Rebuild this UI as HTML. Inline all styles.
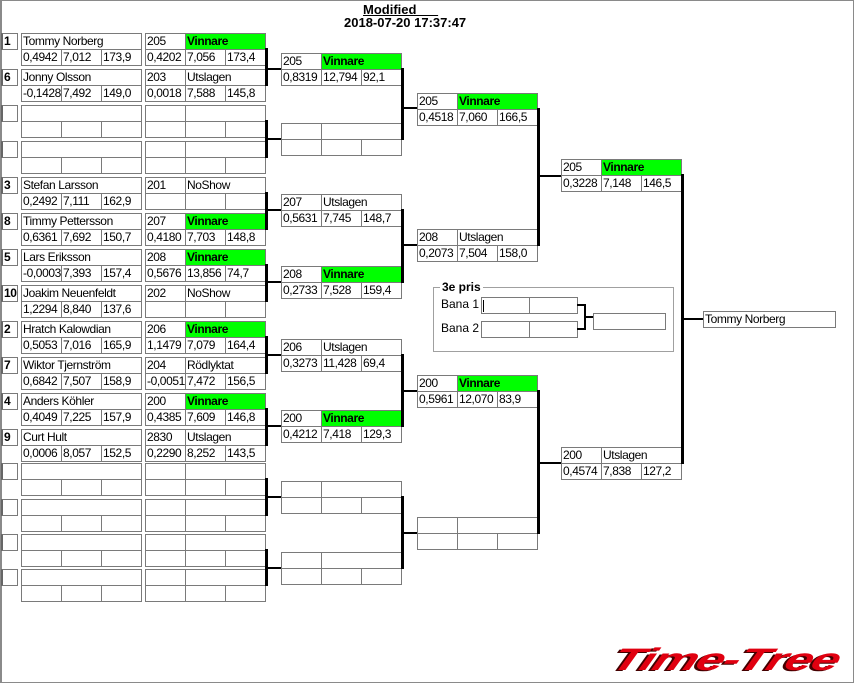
<!DOCTYPE html>
<html><head><meta charset="utf-8"><style>
*{margin:0;padding:0;box-sizing:border-box}
body{width:854px;height:684px;background:#fff;position:relative;overflow:hidden;font-family:"Liberation Sans",Arial,sans-serif;font-size:12px;color:#000}
#fr{position:absolute;left:0;top:0;width:854px;height:683px;border:1px solid #8a8a8a;border-left:2px solid #8a8a8a}
.p,.r{position:absolute;left:0;height:40px;width:300px}
.p span,.r span,.x{position:absolute;height:17px;border:1px solid #7a7a7a;line-height:15px;padding-left:1px;white-space:nowrap;overflow:hidden;background:#fff;letter-spacing:-0.4px}
.s{left:1px;top:0;width:17px;font-weight:bold;border-left:2px solid #666!important}
.n{left:21px;top:0;width:121px}
.a{left:21px;top:16px;width:41px}.b{left:61px;top:16px;width:41px}.d{left:101px;top:16px;width:41px}
.e{left:145px;top:0;width:41px}.f{left:185px;top:0;width:81px}
.h{left:145px;top:16px;width:41px}.j{left:185px;top:16px;width:41px}.k{left:225px;top:16px;width:41px}
.g{background:#00ff00!important;font-weight:bold}
.l{position:absolute;background:#000}
.t{position:absolute;font-weight:bold;font-size:13px;white-space:pre}
</style></head><body>
<div id="fr"></div>
<div class="t" style="left:363px;top:2px;text-decoration:underline">Modified      </div>
<div class="t" style="left:344px;top:15px">2018-07-20 17:37:47</div>

<div class="p" style="top:33px"><span class="s">1</span><span class="n">Tommy Norberg</span><span class="a">0,4942</span><span class="b">7,012</span><span class="d">173,9</span><span class="e">205</span><span class="f g">Vinnare</span><span class="h">0,4202</span><span class="j">7,056</span><span class="k">173,4</span></div>
<div class="p" style="top:69px"><span class="s">6</span><span class="n">Jonny Olsson</span><span class="a">-0,1428</span><span class="b">7,492</span><span class="d">149,0</span><span class="e">203</span><span class="f">Utslagen</span><span class="h">0,0018</span><span class="j">7,588</span><span class="k">145,8</span></div>
<div class="p" style="top:105px"><span class="s"></span><span class="n"></span><span class="a"></span><span class="b"></span><span class="d"></span><span class="e"></span><span class="f"></span><span class="h"></span><span class="j"></span><span class="k"></span></div>
<div class="p" style="top:141px"><span class="s"></span><span class="n"></span><span class="a"></span><span class="b"></span><span class="d"></span><span class="e"></span><span class="f"></span><span class="h"></span><span class="j"></span><span class="k"></span></div>
<div class="p" style="top:177px"><span class="s">3</span><span class="n">Stefan Larsson</span><span class="a">0,2492</span><span class="b">7,111</span><span class="d">162,9</span><span class="e">201</span><span class="f">NoShow</span><span class="h"></span><span class="j"></span><span class="k"></span></div>
<div class="p" style="top:213px"><span class="s">8</span><span class="n">Timmy Pettersson</span><span class="a">0,6361</span><span class="b">7,692</span><span class="d">150,7</span><span class="e">207</span><span class="f g">Vinnare</span><span class="h">0,4180</span><span class="j">7,703</span><span class="k">148,8</span></div>
<div class="p" style="top:249px"><span class="s">5</span><span class="n">Lars Eriksson</span><span class="a">-0,0003</span><span class="b">7,393</span><span class="d">157,4</span><span class="e">208</span><span class="f g">Vinnare</span><span class="h">0,5676</span><span class="j">13,856</span><span class="k">74,7</span></div>
<div class="p" style="top:285px"><span class="s">10</span><span class="n">Joakim Neuenfeldt</span><span class="a">1,2294</span><span class="b">8,840</span><span class="d">137,6</span><span class="e">202</span><span class="f">NoShow</span><span class="h"></span><span class="j"></span><span class="k"></span></div>
<div class="p" style="top:321px"><span class="s">2</span><span class="n">Hratch Kalowdian</span><span class="a">0,5053</span><span class="b">7,016</span><span class="d">165,9</span><span class="e">206</span><span class="f g">Vinnare</span><span class="h">1,1479</span><span class="j">7,079</span><span class="k">164,4</span></div>
<div class="p" style="top:357px"><span class="s">7</span><span class="n">Wiktor Tjernström</span><span class="a">0,6842</span><span class="b">7,507</span><span class="d">158,9</span><span class="e">204</span><span class="f">Rödlyktat</span><span class="h">-0,0051</span><span class="j">7,472</span><span class="k">156,5</span></div>
<div class="p" style="top:393px"><span class="s">4</span><span class="n">Anders Köhler</span><span class="a">0,4049</span><span class="b">7,225</span><span class="d">157,9</span><span class="e">200</span><span class="f g">Vinnare</span><span class="h">0,4385</span><span class="j">7,609</span><span class="k">146,8</span></div>
<div class="p" style="top:429px"><span class="s">9</span><span class="n">Curt Hult</span><span class="a">0,0006</span><span class="b">8,057</span><span class="d">152,5</span><span class="e">2830</span><span class="f">Utslagen</span><span class="h">0,2290</span><span class="j">8,252</span><span class="k">143,5</span></div>
<div class="p" style="top:463px"><span class="s"></span><span class="n"></span><span class="a"></span><span class="b"></span><span class="d"></span><span class="e"></span><span class="f"></span><span class="h"></span><span class="j"></span><span class="k"></span></div>
<div class="p" style="top:499px"><span class="s"></span><span class="n"></span><span class="a"></span><span class="b"></span><span class="d"></span><span class="e"></span><span class="f"></span><span class="h"></span><span class="j"></span><span class="k"></span></div>
<div class="p" style="top:534px"><span class="s"></span><span class="n"></span><span class="a"></span><span class="b"></span><span class="d"></span><span class="e"></span><span class="f"></span><span class="h"></span><span class="j"></span><span class="k"></span></div>
<div class="p" style="top:569px"><span class="s"></span><span class="n"></span><span class="a"></span><span class="b"></span><span class="d"></span><span class="e"></span><span class="f"></span><span class="h"></span><span class="j"></span><span class="k"></span></div>

<div class="r" style="left:136px;top:53px"><span class="e">205</span><span class="f g">Vinnare</span><span class="h">0,8319</span><span class="j">12,794</span><span class="k">92,1</span></div>
<div class="r" style="left:136px;top:123px"><span class="e"></span><span class="f"></span><span class="h"></span><span class="j"></span><span class="k"></span></div>
<div class="r" style="left:136px;top:194px"><span class="e">207</span><span class="f">Utslagen</span><span class="h">0,5631</span><span class="j">7,745</span><span class="k">148,7</span></div>
<div class="r" style="left:136px;top:266px"><span class="e">208</span><span class="f g">Vinnare</span><span class="h">0,2733</span><span class="j">7,528</span><span class="k">159,4</span></div>
<div class="r" style="left:136px;top:339px"><span class="e">206</span><span class="f">Utslagen</span><span class="h">0,3273</span><span class="j">11,428</span><span class="k">69,4</span></div>
<div class="r" style="left:136px;top:410px"><span class="e">200</span><span class="f g">Vinnare</span><span class="h">0,4212</span><span class="j">7,418</span><span class="k">129,3</span></div>
<div class="r" style="left:136px;top:481px"><span class="e"></span><span class="f"></span><span class="h"></span><span class="j"></span><span class="k"></span></div>
<div class="r" style="left:136px;top:552px"><span class="e"></span><span class="f"></span><span class="h"></span><span class="j"></span><span class="k"></span></div>
<div class="r" style="left:272px;top:93px"><span class="e">205</span><span class="f g">Vinnare</span><span class="h">0,4518</span><span class="j">7,060</span><span class="k">166,5</span></div>
<div class="r" style="left:272px;top:229px"><span class="e">208</span><span class="f">Utslagen</span><span class="h">0,2073</span><span class="j">7,504</span><span class="k">158,0</span></div>
<div class="r" style="left:272px;top:375px"><span class="e">200</span><span class="f g">Vinnare</span><span class="h">0,5961</span><span class="j">12,070</span><span class="k">83,9</span></div>
<div class="r" style="left:272px;top:517px"><span class="e"></span><span class="f"></span><span class="h"></span><span class="j"></span><span class="k"></span></div>
<div class="r" style="left:416px;top:159px"><span class="e">205</span><span class="f g">Vinnare</span><span class="h">0,3228</span><span class="j">7,148</span><span class="k">146,5</span></div>
<div class="r" style="left:416px;top:447px"><span class="e">200</span><span class="f">Utslagen</span><span class="h">0,4574</span><span class="j">7,838</span><span class="k">127,2</span></div>
<div class="x" style="left:703px;top:311px;width:133px">Tommy Norberg</div>

<div class="l" style="left:265px;top:48px;width:3px;height:38px"></div><div class="l" style="left:265px;top:68px;width:16px;height:2px"></div>
<div class="l" style="left:265px;top:120px;width:3px;height:38px"></div><div class="l" style="left:265px;top:138px;width:16px;height:2px"></div>
<div class="l" style="left:265px;top:192px;width:3px;height:38px"></div><div class="l" style="left:265px;top:209px;width:16px;height:2px"></div>
<div class="l" style="left:265px;top:264px;width:3px;height:38px"></div><div class="l" style="left:265px;top:281px;width:16px;height:2px"></div>
<div class="l" style="left:265px;top:336px;width:3px;height:38px"></div><div class="l" style="left:265px;top:354px;width:16px;height:2px"></div>
<div class="l" style="left:265px;top:408px;width:3px;height:38px"></div><div class="l" style="left:265px;top:425px;width:16px;height:2px"></div>
<div class="l" style="left:265px;top:478px;width:3px;height:38px"></div><div class="l" style="left:265px;top:496px;width:16px;height:2px"></div>
<div class="l" style="left:265px;top:549px;width:3px;height:37px"></div><div class="l" style="left:265px;top:567px;width:16px;height:2px"></div>
<div class="l" style="left:401px;top:68px;width:3px;height:72px"></div><div class="l" style="left:401px;top:107px;width:16px;height:2px"></div>
<div class="l" style="left:401px;top:209px;width:3px;height:74px"></div><div class="l" style="left:401px;top:244px;width:16px;height:2px"></div>
<div class="l" style="left:401px;top:354px;width:3px;height:73px"></div><div class="l" style="left:401px;top:390px;width:16px;height:2px"></div>
<div class="l" style="left:401px;top:496px;width:3px;height:73px"></div><div class="l" style="left:401px;top:532px;width:16px;height:2px"></div>
<div class="l" style="left:537px;top:108px;width:3px;height:138px"></div><div class="l" style="left:537px;top:175px;width:24px;height:2px"></div>
<div class="l" style="left:537px;top:390px;width:3px;height:144px"></div><div class="l" style="left:537px;top:462px;width:24px;height:2px"></div>
<div class="l" style="left:681px;top:174px;width:3px;height:290px"></div><div class="l" style="left:681px;top:318px;width:22px;height:2px"></div>

<div style="position:absolute;left:433px;top:287px;width:241px;height:65px;border:1px solid #a0a0a0"></div>
<div class="t" style="left:440px;top:280px;background:#fff;padding:0 2px;font-size:12px">3e pris</div>
<div style="position:absolute;left:441px;top:297px">Bana 1</div>
<div style="position:absolute;left:441px;top:321px">Bana 2</div>
<div class="x" style="left:481px;top:297px;width:49px"></div><div class="x" style="left:529px;top:297px;width:49px"></div>
<div class="l" style="left:483px;top:300px;width:1px;height:12px"></div>
<div class="x" style="left:481px;top:321px;width:49px"></div><div class="x" style="left:529px;top:321px;width:49px"></div>
<div class="l" style="left:577px;top:304px;width:8px;height:2px"></div>
<div class="l" style="left:584px;top:304px;width:2px;height:26px"></div>
<div class="l" style="left:577px;top:328px;width:8px;height:2px"></div>
<div class="l" style="left:584px;top:316px;width:9px;height:2px"></div>
<div class="x" style="left:593px;top:313px;width:73px"></div>

<div style="position:absolute;left:620px;top:643px;font:italic 900 38px 'Liberation Sans',sans-serif;color:#e00010;letter-spacing:-1px;transform:skewX(-22deg) scaleX(1.32) scaleY(0.82);transform-origin:left top;text-shadow:-2px 1px 0 #400;white-space:nowrap">Time-Tree</div>
</body></html>
